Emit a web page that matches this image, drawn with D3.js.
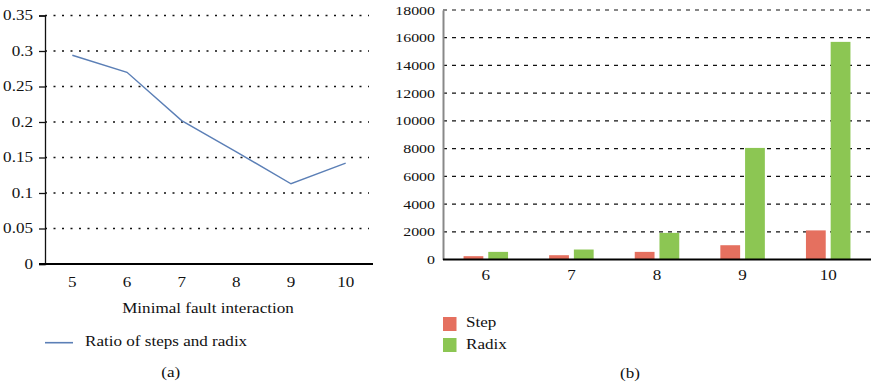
<!DOCTYPE html>
<html><head><meta charset="utf-8">
<script src="https://cdn.jsdelivr.net/npm/d3@7"></script>
<style>
html,body{margin:0;padding:0;background:#fff;}
svg{display:block;}
</style></head>
<body>
<svg id="c" width="881" height="384"></svg>
<script>
// ---- data (a) ----
const lineCats = [5, 6, 7, 8, 9, 10];
const ratioValues = [0.294, 0.270, 0.202, 0.158, 0.113, 0.142];
const lineTicks = [0, 0.05, 0.1, 0.15, 0.2, 0.25, 0.3, 0.35];
const lineTickLabels = ["0", "0.05", "0.1", "0.15", "0.2", "0.25", "0.3", "0.35"];
const lineSeriesName = "Ratio of steps and radix";
const lineXTitle = "Minimal fault interaction";
// ---- data (b) ----
const barCats = [6, 7, 8, 9, 10];
const seriesNames = ["Step", "Radix"];
const stepValues = [240, 310, 550, 1030, 2100];
const radixValues = [550, 720, 1920, 8050, 15700];
const barTicks = [0, 2000, 4000, 6000, 8000, 10000, 12000, 14000, 16000, 18000];
const barTickLabels = ["0", "2000", "4000", "6000", "8000", "10000", "12000", "14000", "16000", "18000"];

const FONT = "'Liberation Serif', 'Times New Roman', Times, serif";
const svg = d3.select("#c").style("font-family", FONT);
const SX = 1.22;
function txt(x, y, s, anchor, size, sx) {
  return svg.append("text")
    .attr("transform", `translate(${x},${y}) scale(${sx || SX},1)`)
    .attr("text-anchor", anchor || "start")
    .attr("font-size", size || 14)
    .attr("font-family", FONT)
    .attr("fill", "#111")
    .text(s);
}

// ===== Chart (a) =====
const ya = d3.scaleLinear().domain([0, 0.35]).range([264, 15.5]);
const xa = d3.scalePoint().domain(lineCats).range([45, 373]).padding(0.5);

svg.append("g").selectAll("line").data(lineTicks.slice(1)).join("line")
  .attr("x1", 45).attr("x2", 369)
  .attr("y1", d => ya(d)).attr("y2", d => ya(d))
  .attr("stroke", "#111").attr("stroke-width", 1.3)
  .attr("stroke-dasharray", "2,6.5");

const ga = svg.append("g").attr("transform", "translate(45,0)")
  .call(d3.axisLeft(ya).tickValues(lineTicks).tickFormat((d, i) => lineTickLabels[i]).tickSizeOuter(0).tickSize(6).tickPadding(0));
ga.attr("font-family", FONT);
ga.select(".domain").attr("stroke", "#111").attr("stroke-width", 1.3);
ga.selectAll(".tick line").attr("stroke", "#111").attr("stroke-width", 1.3);
ga.selectAll(".tick text")
  .attr("font-family", FONT).attr("font-size", 14).attr("fill", "#111")
  .attr("x", 0).attr("dy", "0.3em")
  .attr("transform", `translate(-12,0) scale(${SX},1)`);

svg.append("line").attr("x1", 39).attr("x2", 373).attr("y1", 264).attr("y2", 264)
  .attr("stroke", "#000").attr("stroke-width", 2);
lineCats.forEach(c => txt(xa(c), 287, String(c), "middle", 14));
txt(208, 312.5, lineXTitle, "middle", 14);

svg.append("path").datum(lineCats.map((c, i) => [c, ratioValues[i]]))
  .attr("fill", "none").attr("stroke", "#5b7fb6").attr("stroke-width", 1.4)
  .attr("d", d3.line().x(d => xa(d[0])).y(d => ya(d[1])));

svg.append("line").attr("x1", 45).attr("x2", 73).attr("y1", 342.7).attr("y2", 342.7)
  .attr("stroke", "#5b7fb6").attr("stroke-width", 1.6);
txt(85, 346, lineSeriesName, "start", 14);
txt(170.7, 377, "(a)", "middle", 14);

// ===== Chart (b) =====
const yb = d3.scaleLinear().domain([0, 18000]).range([259.5, 10]);
const x0 = d3.scaleBand().domain(barCats).range([443, 871]).paddingInner(0.48).paddingOuter(0.24);
const x1 = d3.scaleBand().domain(seriesNames).range([0, x0.bandwidth()]).paddingInner(0.2);
const color = d3.scaleOrdinal().domain(seriesNames).range(["#e5705f", "#8cc653"]);

svg.append("g").selectAll("line").data(barTicks.slice(1)).join("line")
  .attr("x1", 443).attr("x2", 871)
  .attr("y1", d => yb(d)).attr("y2", d => yb(d))
  .attr("stroke", "#111").attr("stroke-width", 1.2)
  .attr("stroke-dasharray", "4,5");

const gb = svg.append("g").attr("transform", "translate(443,0)")
  .call(d3.axisLeft(yb).tickValues(barTicks).tickFormat((d, i) => barTickLabels[i]).tickSizeOuter(0).tickSize(0).tickPadding(0));
gb.attr("font-family", FONT);
gb.select(".domain").attr("stroke", "#888").attr("stroke-width", 2);
gb.selectAll(".tick text")
  .attr("font-family", FONT).attr("font-size", 13.5).attr("fill", "#111")
  .attr("x", 0).attr("dy", "0.3em")
  .attr("transform", `translate(-8,0) scale(1.18,1)`);

const groups = svg.append("g").selectAll("g").data(barCats).join("g")
  .attr("transform", c => `translate(${x0(c)},0)`);
groups.selectAll("rect").data((c, i) => [
    {s: "Step", v: stepValues[i]},
    {s: "Radix", v: radixValues[i]}
  ]).join("rect")
  .attr("x", d => x1(d.s)).attr("width", x1.bandwidth())
  .attr("y", d => yb(d.v)).attr("height", d => yb(0) - yb(d.v))
  .attr("fill", d => color(d.s));

svg.append("line").attr("x1", 443).attr("x2", 871).attr("y1", 259.5).attr("y2", 259.5)
  .attr("stroke", "#000").attr("stroke-width", 2);
barCats.forEach(c => txt(x0(c) + x0.bandwidth() / 2, 280, String(c), "middle", 14));

seriesNames.forEach((s, i) => {
  svg.append("rect").attr("x", 443).attr("y", 317 + i * 21).attr("width", 13.5).attr("height", 14)
    .attr("fill", color(s));
  txt(466, 327 + i * 21.5, s, "start", 14);
});
txt(630, 378, "(b)", "middle", 14);
</script>
</body></html>
